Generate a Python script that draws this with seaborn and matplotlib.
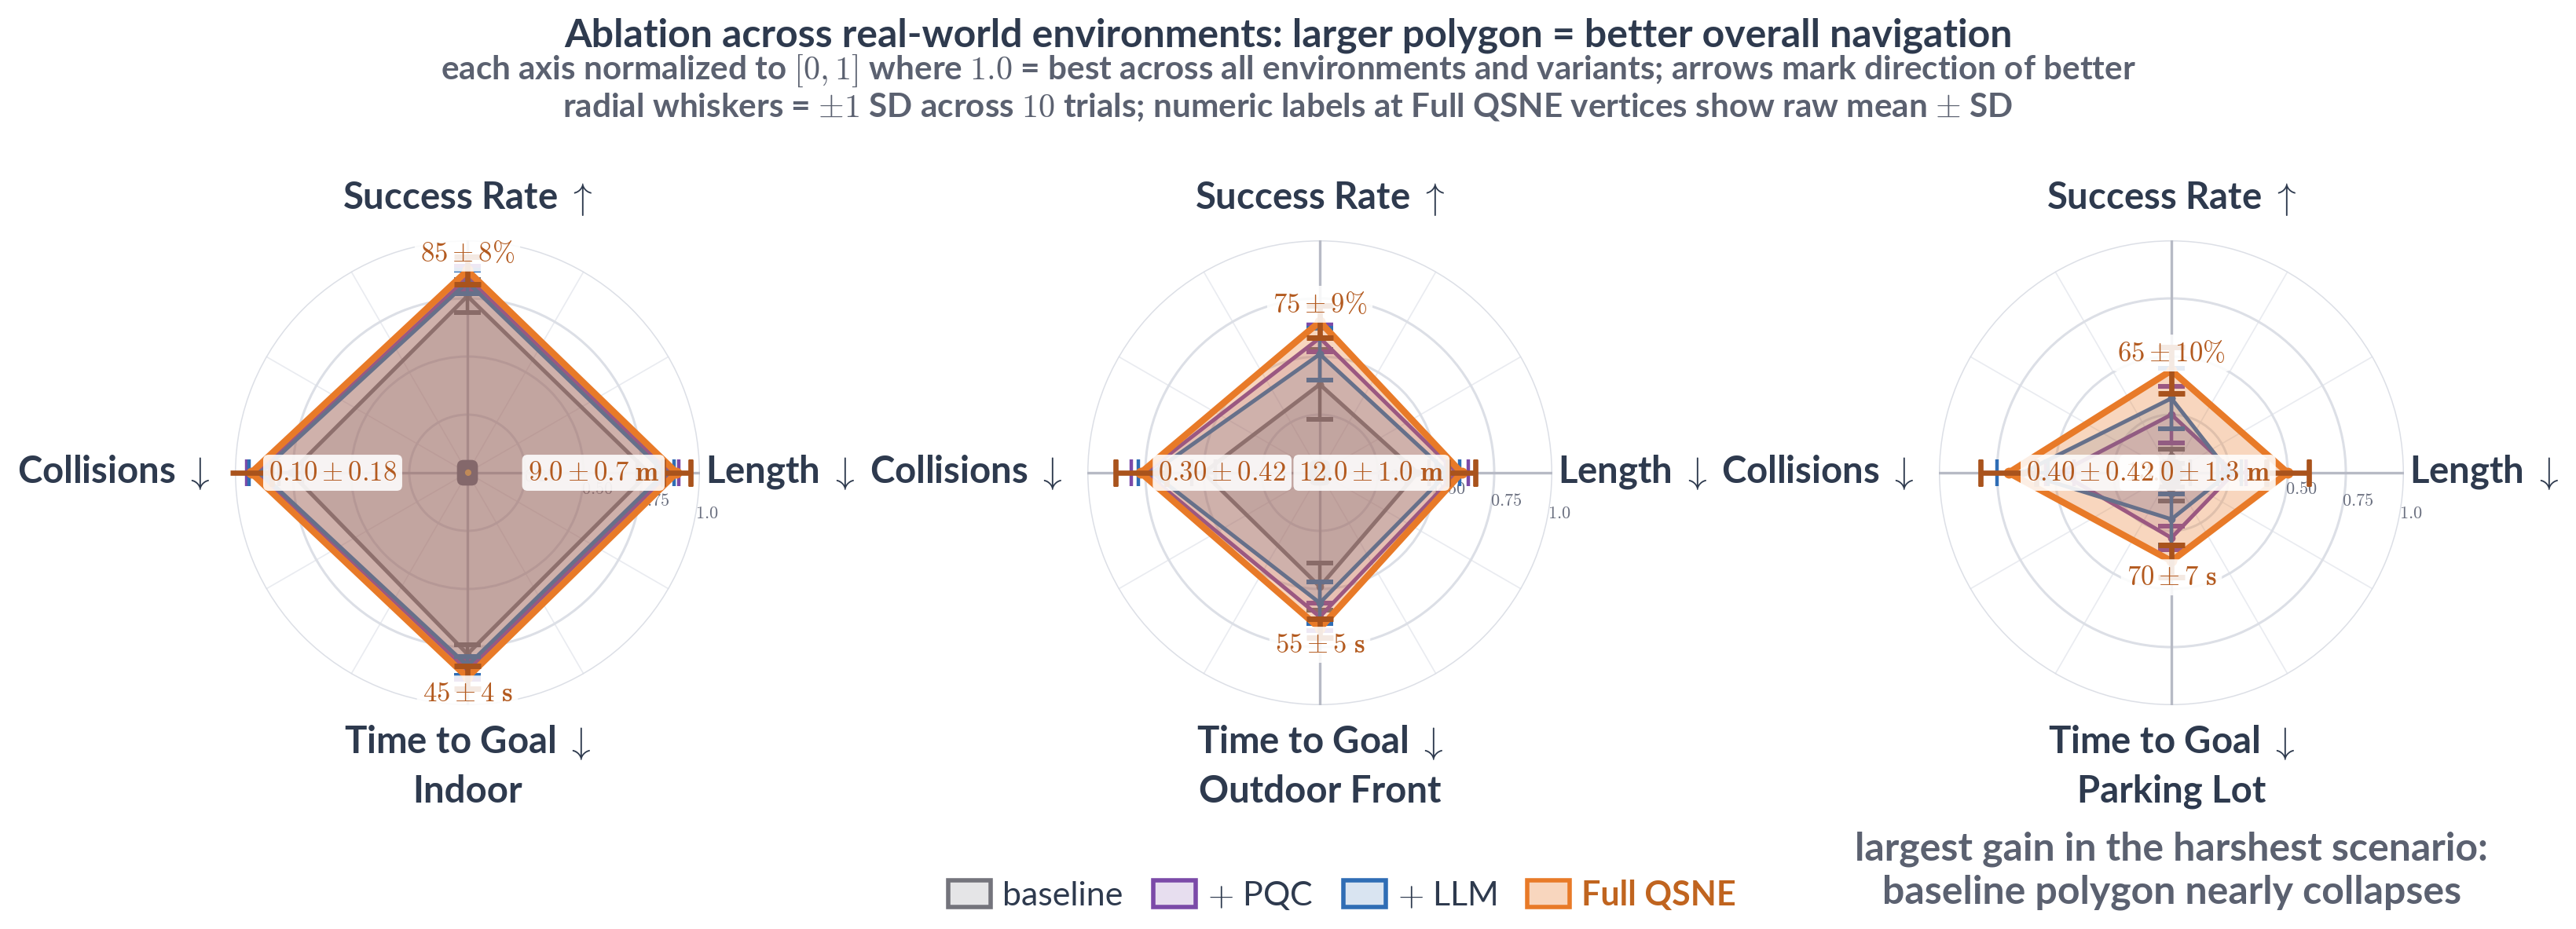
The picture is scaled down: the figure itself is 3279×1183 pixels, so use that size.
import numpy as np
import matplotlib
matplotlib.use("Agg")
import matplotlib.pyplot as plt
import matplotlib.patches as mpatches
from matplotlib.colors import to_rgba
import seaborn as sns

# ---- data -------------------------------------------------------------
environments = ["Indoor", "Outdoor Front", "Parking Lot"]
metrics = ["Success Rate", "Length", "Time to Goal", "Collisions"]
metric_arrows = [r"$\uparrow$", r"$\downarrow$", r"$\downarrow$", r"$\downarrow$"]
metric_angles_deg = [90, 0, 270, 180]
variants = ["baseline", "+ PQC", "+ LLM", "Full QSNE"]

# normalized scores (1.0 = best), order: success, length, time, collisions
baseline_mean = [[0.76, 0.78, 0.78, 0.76], [0.38, 0.42, 0.49, 0.50], [0.07, 0.05, 0.09, 0.06]]
baseline_sd = [[0.07, 0.05, 0.04, 0.05], [0.15, 0.05, 0.10, 0.05], [0.03, 0.03, 0.03, 0.03]]
pqc_mean = [[0.84, 0.87, 0.85, 0.90], [0.58, 0.59, 0.62, 0.75], [0.25, 0.27, 0.28, 0.48]]
pqc_sd = [[0.05, 0.04, 0.04, 0.05], [0.06, 0.05, 0.06, 0.06], [0.12, 0.05, 0.05, 0.06]]
llm_mean = [[0.82, 0.85, 0.83, 0.89], [0.51, 0.55, 0.56, 0.72], [0.32, 0.25, 0.20, 0.64]]
llm_sd = [[0.05, 0.04, 0.04, 0.05], [0.11, 0.05, 0.09, 0.06], [0.13, 0.05, 0.11, 0.11]]
full_mean = [[0.87, 0.90, 0.88, 0.93], [0.65, 0.61, 0.67, 0.77], [0.44, 0.50, 0.38, 0.70]]
full_sd = [[0.06, 0.06, 0.05, 0.09], [0.07, 0.06, 0.04, 0.11], [0.10, 0.09, 0.07, 0.12]]

# raw Full QSNE mean / SD shown at the vertices
success_raw = [85, 75, 65]
success_raw_sd = [8, 9, 10]
length_raw = [9.0, 12.0, 13.0]
length_raw_sd = [0.7, 1.0, 1.3]
time_raw = [45, 55, 70]
time_raw_sd = [4, 5, 7]
collisions_raw = [0.10, 0.30, 0.40]
collisions_raw_sd = [0.18, 0.42, 0.42]

means = [baseline_mean, pqc_mean, llm_mean, full_mean]
sds = [baseline_sd, pqc_sd, llm_sd, full_sd]

# ---- style ------------------------------------------------------------
sns.set_theme(style="white")
plt.rcParams["font.family"] = ["Lato", "DejaVu Sans"]
plt.rcParams["mathtext.fontset"] = "cm"

INK = "#2e3a4e"
SUB = "#5b6170"
colors = ["#74747c", "#7b4aa8", "#2f6db5", "#e87a28"]
err_colors = ["#6a6a72", "#7b4aa8", "#2f6db5", "#a9531c"]
fill_alpha = [0.18, 0.18, 0.18, 0.30]
line_w = [1.8, 1.8, 1.8, 3.0]
mark_s = [3.5, 3.5, 3.5, 5.0]
LABEL_ORANGE = "#b35a1f"

fig = plt.figure(figsize=(16.395, 5.915), dpi=200)

fig.text(0.5, 0.962, "Ablation across real-world environments: larger polygon = better overall navigation",
         ha="center", va="center", fontsize=18, fontweight="bold", color=INK)
fig.text(0.5, 0.924, r"each axis normalized to $[0,1]$ where $1.0$ = best across all environments and variants; arrows mark direction of better",
         ha="center", va="center", fontsize=15.2, fontweight="bold", color=SUB)
fig.text(0.5, 0.884, r"radial whiskers = $\pm1$ SD across $10$ trials; numeric labels at Full QSNE vertices show raw mean $\pm$ SD",
         ha="center", va="center", fontsize=15.2, fontweight="bold", color=SUB)

theta = np.deg2rad(metric_angles_deg)
theta_closed = np.append(theta, theta[0])
centers_x = [595 / 3279, 1680 / 3279, 2764 / 3279]
center_y = 1 - 602 / 1183
ax_w = 592 / 3279
ax_h = 592 / 1183

label_box = dict(boxstyle="round,pad=0.2", fc="white", ec="none", alpha=0.88)

for e, env in enumerate(environments):
    ax = fig.add_axes([centers_x[e] - ax_w / 2, center_y - ax_h / 2, ax_w, ax_h], projection="polar")
    ax.set_axisbelow(True)
    ax.set_ylim(0, 1.0)
    ax.set_yticks([0.25, 0.5, 0.75, 1.0])
    ax.set_yticklabels([r"$0.25$", r"$0.50$", r"$0.75$", r"$1.0$"], fontsize=8, color="#6b7080")
    ax.set_rlabel_position(-12)
    ax.set_xticks(np.deg2rad(np.arange(0, 360, 30)))
    ax.set_xticklabels([])
    ax.yaxis.grid(True, color="#dcdfe6", lw=1.1)
    ax.xaxis.grid(True, color="#e9ebf0", lw=0.6)
    ax.spines["polar"].set_visible(False)
    ax.tick_params(pad=0)
    for t in theta:
        ax.plot([t, t], [0, 1.0], color="#b7bac5", lw=1.2, zorder=1)

    for k in range(len(variants)):
        m = np.array(means[k][e])
        s = np.array(sds[k][e])
        mc = np.append(m, m[0])
        z = 3 + 3 * k
        ax.fill(theta_closed, mc, color=colors[k], alpha=fill_alpha[k], lw=0, zorder=z)
        sns.lineplot(x=theta_closed, y=mc, ax=ax, sort=False, estimator=None, color=colors[k],
                     lw=line_w[k], marker="o", markersize=mark_s[k], markeredgewidth=0, zorder=z + 1)
        eb = ax.errorbar(theta, m, yerr=s, fmt="none", ecolor=err_colors[k],
                         elinewidth=1.6 if k < 3 else 2.4, capsize=6, capthick=1.6 if k < 3 else 2.4,
                         zorder=z + 2)
        for art in eb.lines[1] + tuple(eb.lines[2]):
            art.set_clip_on(False)
    ax.set_xlabel("")
    ax.set_ylabel("")

    # hub at the centre
    ax.text(0, 0, "\u25cf", fontsize=6, color="#c08a58", ha="center", va="center", zorder=25,
            bbox=dict(boxstyle="round,pad=0.5", fc="#84686b", ec="none"))

    fm = full_mean[e]
    num_kw = dict(fontsize=12.5, color=LABEL_ORANGE, bbox=label_box, zorder=30)
    ax.text(theta[0], fm[0] + 0.075, rf"${success_raw[e]:.0f} \pm {success_raw_sd[e]:.0f}\%$",
            ha="center", va="center", **num_kw)
    ax.text(theta[1], fm[1] - 0.075, rf"${length_raw[e]:.1f} \pm {length_raw_sd[e]:.1f}$ $\mathbf{{m}}$",
            ha="right", va="center", **num_kw)
    ax.text(theta[2], fm[2] + 0.07, rf"${time_raw[e]:.0f} \pm {time_raw_sd[e]:.0f}$ $\mathbf{{s}}$",
            ha="center", va="center", **num_kw)
    ax.text(theta[3], fm[3] - 0.075, rf"${collisions_raw[e]:.2f} \pm {collisions_raw_sd[e]:.2f}$",
            ha="left", va="center", **num_kw)

    # metric names around the circle
    lab_kw = dict(fontsize=17, fontweight="bold", color=INK)
    ax.text(theta[0], 1.18, f"{metrics[0]} {metric_arrows[0]}", ha="center", va="center", **lab_kw)
    ax.text(theta[1], 1.024, f"{metrics[1]} {metric_arrows[1]}", ha="left", va="center", **lab_kw)
    ax.text(theta[2], 1.16, f"{metrics[2]} {metric_arrows[2]}", ha="center", va="center", **lab_kw)
    ax.text(theta[3], 1.105, f"{metrics[3]} {metric_arrows[3]}", ha="right", va="center", **lab_kw)
    ax.text(theta[2], 1.37, env, ha="center", va="center", **lab_kw)

handles = [mpatches.Patch(facecolor=to_rgba(colors[k], fill_alpha[k]), edgecolor=colors[k], lw=2)
           for k in range(len(variants))]
leg_labels = ["baseline", r"$+$ PQC", r"$+$ LLM", "Full QSNE"]
leg = fig.legend(handles, leg_labels, loc="center", bbox_to_anchor=(0.521, 0.036), ncol=4,
                 frameon=False, fontsize=15.5, handlelength=1.25, handleheight=0.85,
                 handletextpad=0.35, columnspacing=0.9)
for k, txt in enumerate(leg.get_texts()):
    txt.set_color(INK)
    if k == 3:
        txt.set_color("#c0641f")
        txt.set_fontweight("bold")

fig.text(0.843, 0.063, "largest gain in the harshest scenario:\nbaseline polygon nearly collapses",
         ha="center", va="center", fontsize=18, fontweight="bold", color=SUB, linespacing=1.25)

fig.savefig("out.png", dpi=200, facecolor="white")
